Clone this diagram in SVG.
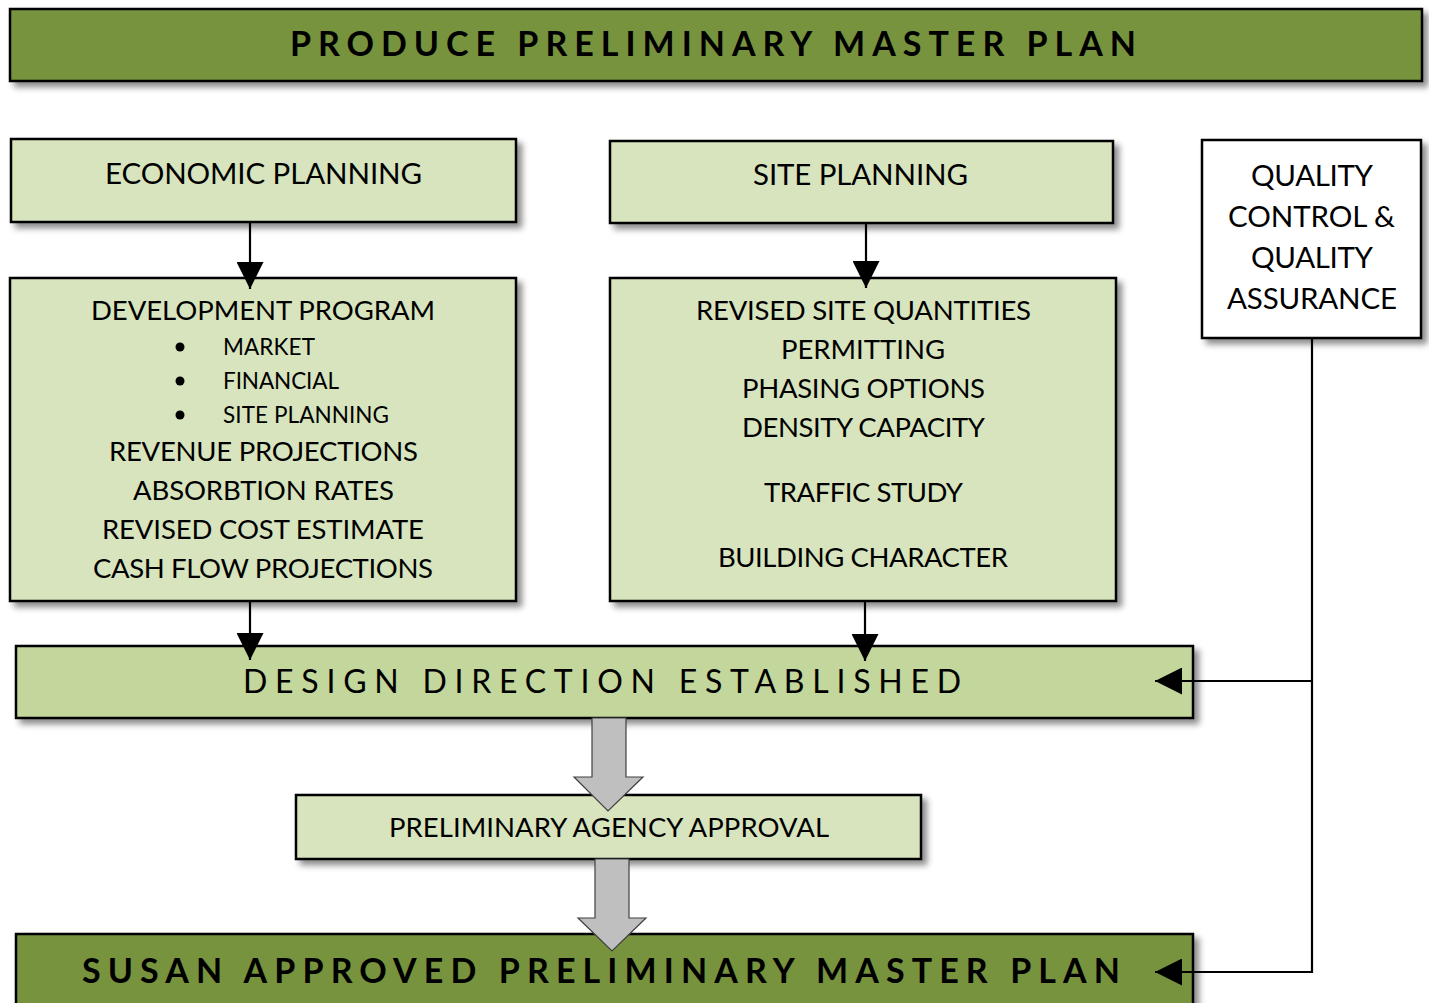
<svg xmlns="http://www.w3.org/2000/svg" width="1429" height="1003" viewBox="0 0 1429 1003">
<defs>
<filter id="sh" x="-5%" y="-20%" width="115%" height="150%">
<feDropShadow dx="5" dy="5" stdDeviation="3" flood-color="#000" flood-opacity="0.45"/>
</filter>
<marker id="ah" markerUnits="userSpaceOnUse" markerWidth="27" markerHeight="27" refX="27" refY="13.5" orient="auto" viewBox="0 0 27 27">
<path d="M0,0 L27,13.5 L0,27 z" fill="#000"/>
</marker>
<style>
.box{stroke:#000;stroke-width:2.5;filter:url(#sh)}
.dark{fill:#77933C}
.light{fill:#D7E4BD}
.mid{fill:#C3D69B}
.white{fill:#fff}
text{font-family:Lato,"Open Sans","Liberation Sans",sans-serif;fill:#000;text-anchor:middle}
.t{font-size:27.5px}
.t2{font-size:29.5px}
.s{font-size:22.5px;text-anchor:start}
.title{font-size:34px;font-weight:bold}
.dd{font-size:32px}
.conn{fill:none;stroke:#000;stroke-width:2.2}
.block{fill:#BFBFBF;stroke:#404040;stroke-width:1.2}
</style>
</defs>

<g id="produce">
<rect class="box dark" x="10" y="9" width="1412" height="72"/>
<text class="title" x="713" y="56" textLength="846" lengthAdjust="spacing">PRODUCE PRELIMINARY MASTER PLAN</text>
</g>

<g id="economic">
<rect class="box light" x="11" y="139" width="505" height="83"/>
<text class="t2" x="263.5" y="184" textLength="317" lengthAdjust="spacing">ECONOMIC PLANNING</text>
</g>

<g id="site">
<rect class="box light" x="610" y="141" width="503" height="82"/>
<text class="t2" x="860.5" y="185" textLength="215" lengthAdjust="spacing">SITE PLANNING</text>
</g>

<g id="qc">
<rect class="box white" x="1202" y="140" width="219" height="198"/>
<text class="t2" x="1312" y="186" textLength="122" lengthAdjust="spacing">QUALITY</text>
<text class="t2" x="1311.5" y="227" textLength="167" lengthAdjust="spacing">CONTROL &amp;</text>
<text class="t2" x="1312" y="268" textLength="122" lengthAdjust="spacing">QUALITY</text>
<text class="t2" x="1312" y="309" textLength="170" lengthAdjust="spacing">ASSURANCE</text>
</g>

<g id="devprogram">
<rect class="box light" x="10" y="278" width="506" height="323"/>
<text class="t" x="263" y="320" textLength="344" lengthAdjust="spacing">DEVELOPMENT PROGRAM</text>
<circle cx="180" cy="347" r="4.5"/>
<circle cx="180" cy="381" r="4.5"/>
<circle cx="180" cy="415" r="4.5"/>
<text class="s" x="223" y="355" textLength="92" lengthAdjust="spacing">MARKET</text>
<text class="s" x="223" y="389" textLength="116" lengthAdjust="spacing">FINANCIAL</text>
<text class="s" x="223" y="423" textLength="166" lengthAdjust="spacing">SITE PLANNING</text>
<text class="t" x="263.5" y="461" textLength="309" lengthAdjust="spacing">REVENUE PROJECTIONS</text>
<text class="t" x="263.5" y="500" textLength="261" lengthAdjust="spacing">ABSORBTION RATES</text>
<text class="t" x="263" y="539" textLength="322" lengthAdjust="spacing">REVISED COST ESTIMATE</text>
<text class="t" x="263" y="578" textLength="340" lengthAdjust="spacing">CASH FLOW PROJECTIONS</text>
</g>

<g id="revised">
<rect class="box light" x="610" y="278" width="506" height="323"/>
<text class="t" x="863.5" y="320" textLength="335" lengthAdjust="spacing">REVISED SITE QUANTITIES</text>
<text class="t" x="863" y="359" textLength="164" lengthAdjust="spacing">PERMITTING</text>
<text class="t" x="863.5" y="398" textLength="243" lengthAdjust="spacing">PHASING OPTIONS</text>
<text class="t" x="863.5" y="437" textLength="243" lengthAdjust="spacing">DENSITY CAPACITY</text>
<text class="t" x="863.5" y="502" textLength="199" lengthAdjust="spacing">TRAFFIC STUDY</text>
<text class="t" x="863" y="567" textLength="290" lengthAdjust="spacing">BUILDING CHARACTER</text>
</g>

<g id="design">
<rect class="box mid" x="16" y="646" width="1177" height="72"/>
<text class="dd" x="602" y="693" textLength="718" lengthAdjust="spacing">DESIGN DIRECTION ESTABLISHED</text>
</g>

<g id="agency">
<rect class="box light" x="296" y="795" width="625" height="64"/>
<text class="t" x="609" y="837" textLength="440" lengthAdjust="spacing">PRELIMINARY AGENCY APPROVAL</text>
</g>

<g id="susan">
<rect class="box dark" x="16" y="934" width="1177" height="80"/>
<text class="title" x="601" y="983" textLength="1038" lengthAdjust="spacing">SUSAN APPROVED PRELIMINARY MASTER PLAN</text>
</g>

<g id="connectors">
<line class="conn" x1="250" y1="222" x2="250" y2="289" marker-end="url(#ah)"/>
<line class="conn" x1="866" y1="223" x2="866" y2="288" marker-end="url(#ah)"/>
<line class="conn" x1="250" y1="601" x2="250" y2="660" marker-end="url(#ah)"/>
<line class="conn" x1="865" y1="601" x2="865" y2="661" marker-end="url(#ah)"/>
<path class="conn" d="M1312,339 V972 H1155" marker-end="url(#ah)"/>
<path class="conn" d="M1312,681 H1155" marker-end="url(#ah)"/>
<polygon class="block" points="592,718 626,718 626,777 643,777 608,811 574,777 592,777"/>
<polygon class="block" points="595,859 629,859 629,918 646,918 612,951 578,918 595,918"/>
</g>
</svg>
